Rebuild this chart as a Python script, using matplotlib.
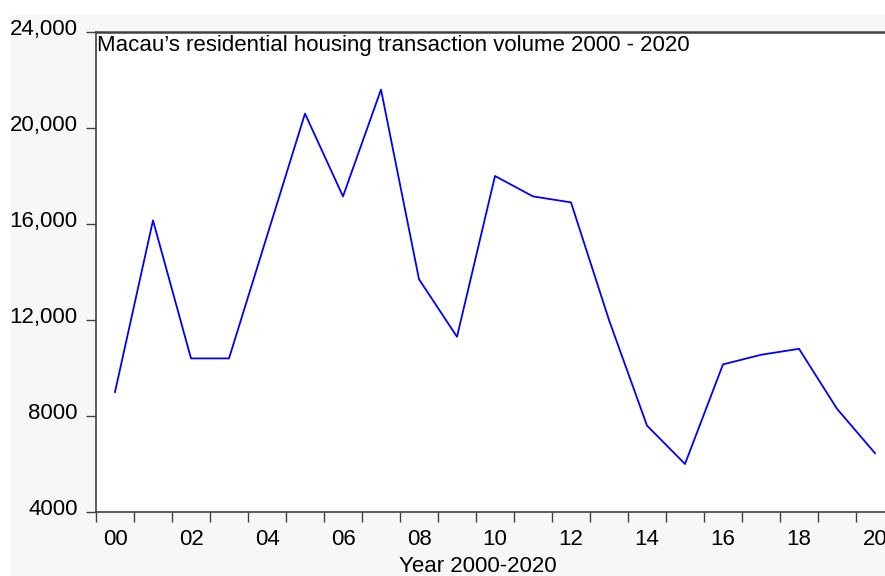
import matplotlib
matplotlib.use("Agg")
import matplotlib.pyplot as plt
from matplotlib.patches import Rectangle
from matplotlib.transforms import ScaledTranslation

# Macau residential housing transactions, 2000-2020
years = list(range(2000, 2021))
volume = [9000, 16150, 10400, 10400, 15500, 20600, 17150, 21600, 13700, 11300,
          18000, 17150, 16900, 12000, 7600, 6000, 10150, 10550, 10800, 8300, 6450]
y_ticks = [4000, 8000, 12000, 16000, 20000, 24000]
y_labels = ["4000", "8000", "12,000", "16,000", "20,000", "24,000"]
x_labels = ["00", "02", "04", "06", "08", "10", "12", "14", "16", "18", "20"]

plt.rcParams["font.family"] = ["Liberation Sans", "DejaVu Sans"]

W, H = 885, 576
fig = plt.figure(figsize=(W / 100, H / 100), dpi=100)
fig.patch.set_facecolor("#f6f7f9")
# white strips of the screenshot at top and left
fig.patches.append(Rectangle((0, 1 - 15 / H), 1, 15 / H, transform=fig.transFigure,
                             facecolor="white", edgecolor="none", zorder=-1))
fig.patches.append(Rectangle((0, 0), 11 / W, 1, transform=fig.transFigure,
                             facecolor="white", edgecolor="none", zorder=-1))

# axes runs past the right edge of the image like in the reference
ax = fig.add_axes([96 / W, 64 / H, 798 / W, 480 / H])
ax.set_facecolor("white")

idx = [y - years[0] for y in years]
ax.plot(idx, volume, color="#0000ff", linewidth=1.3)

ax.set_xlim(-0.5, len(years) - 0.5)
ax.set_ylim(y_ticks[0], y_ticks[-1])

# ticks sit between years, labels centred on even years
ax.set_xticks([i - 0.5 for i in range(len(years) + 1)], minor=True)
ax.set_xticks(list(range(0, len(years), 2)))
ax.set_xticklabels(x_labels)
ax.tick_params(axis="x", which="major", length=0, pad=12, labelsize=16)
ax.tick_params(axis="x", which="minor", length=7.2, width=1, color="#404040",
               direction="out")

ax.set_yticks(y_ticks)
ax.set_yticklabels(y_labels)
ax.tick_params(axis="y", length=7.2, width=1, color="#404040", pad=6, labelsize=16)
# EViews puts the value labels slightly above their tick
lift = ScaledTranslation(0, 5 / 100, fig.dpi_scale_trans)
for lab in ax.get_yticklabels():
    lab.set_transform(lab.get_transform() + lift)

for s in ["left", "bottom"]:
    ax.spines[s].set_color("#404040")
    ax.spines[s].set_linewidth(1.2)
ax.spines["top"].set_color("#404040")
ax.spines["top"].set_linewidth(1.8)
ax.spines["right"].set_visible(False)

ax.set_xlabel("Year 2000-2020", fontsize=16)
ax.xaxis.set_label_coords(382 / 798, -0.092)

ax.text(0.001, 0.993, "Macau\u2019s residential housing transaction volume 2000 - 2020",
        transform=ax.transAxes, ha="left", va="top", fontsize=16)

fig.savefig("out.png", dpi=100, facecolor=fig.get_facecolor())
